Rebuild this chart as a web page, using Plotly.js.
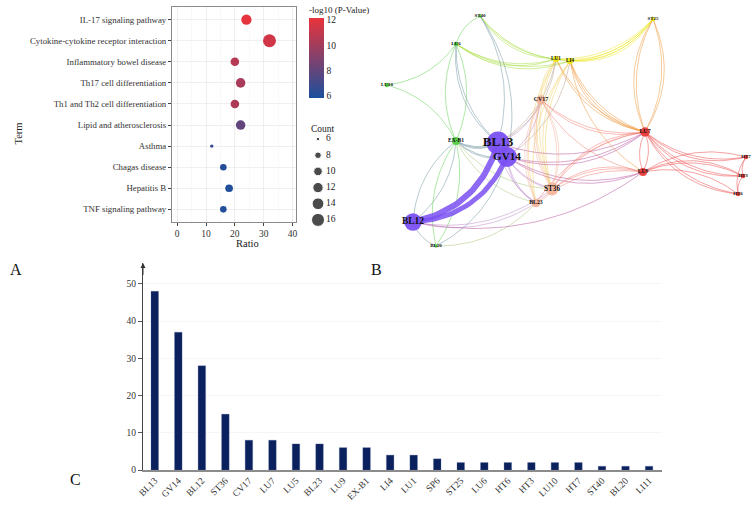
<!DOCTYPE html>
<html><head><meta charset="utf-8">
<script src="https://cdn.plot.ly/plotly-3.0.1.min.js"></script>
<style>html,body{margin:0;padding:0;background:#fff}#chart{width:753px;height:505px}</style>
</head><body><div id="chart"></div>
<script>
// ---------- Panel A data (KEGG bubble chart) ----------
const terms = ["IL-17 signaling pathway","Cytokine-cytokine receptor interaction","Inflammatory bowel disease","Th17 cell differentiation","Th1 and Th2 cell differentiation","Lipid and atherosclerosis","Asthma","Chagas disease","Hepatitis B","TNF signaling pathway"];
const ratio = [24,32,20,22,20,22,12,16,18,16];
const counts = [12,16,10,11,10,11,6,8,9,8];
const logP = [12.0,11.4,10.6,10.2,10.3,8.0,6.7,6.2,6.0,6.1];
const countLegend = [6,8,10,12,14,16];
const colorTicks = [6,8,10,12];
const ratioTicks = [0,10,20,30,40];

// ---------- Panel B data (network) ----------
const nodeNames = ["BL13","GV14","BL12","ST36","CV17","BL23","LU7","LU9","EX-B1","LI4","LU1","ST25","LU6","HT6","HT3","LU10","HT7","ST40","BL20"];
const nodeX = [498,507,413,552,541,536,645,643,456,570,556,653,456,738,743,387,746,480,436];
const nodeY = [143,157,222,189,100,203,132,172,141,61,59,19,44,194,176,85,157,16,246];
const nodeGroup = ["purple","purple","purple","peach","peach","peach","red","red","green","yellow","yellow","yellow","green","red","red","green","red","green","green"];
// [source, target, number of arcs]
const edges = [
 ["LU10","LU6",1],["EX-B1","LU10",1],["LU6","EX-B1",1],["EX-B1","LU6",1],["LU6","BL13",2],["LU6","LU1",2],["LU6","LI4",2],
 ["ST40","LU6",1],["ST40","LU1",2],["ST40","LI4",1],["BL13","ST40",1],["GV14","ST40",1],["EX-B1","BL13",3],["EX-B1","GV14",2],
 ["BL12","EX-B1",1],["EX-B1","BL12",1],["EX-B1","BL20",1],["BL20","EX-B1",1],["BL12","BL20",1],["EX-B1","ST36",1],["EX-B1","BL23",1],
 ["BL20","BL23",1],["BL20","GV14",1],
 ["LU1","ST25",3],["LI4","ST25",3],["LI4","LU7",3],["LU1","LU7",2],["ST25","LU7",2],["LU7","ST25",2],["LU1","CV17",1],["BL13","LU1",2],
 ["LU1","ST36",2],["LU1","BL23",1],["LI4","ST36",2],["GV14","LI4",1],["LI4","LU9",1],["LI4","BL23",1],
 ["LU7","HT7",2],["LU7","HT3",2],["LU7","HT6",2],["HT7","LU9",1],["HT3","LU9",2],["HT6","LU9",1],["HT7","HT3",1],["HT3","HT6",1],["HT7","HT6",1],
 ["LU7","LU9",1],["LU9","LU7",1],["GV14","LU7",2],["BL13","LU7",1],["GV14","LU9",2],["LU9","ST36",2],["LU7","ST36",2],["LU7","BL23",1],
 ["CV17","LU7",2],["CV17","LU9",1],["LU9","BL23",1],
 ["BL13","CV17",1],["GV14","CV17",1],["BL13","ST36",1],["GV14","ST36",1],["GV14","BL23",2],["BL13","BL23",1],["BL12","BL23",1],["BL12","ST36",1],
 ["BL13","GV14",1],["CV17","ST36",2],["ST36","CV17",2],["CV17","BL23",2],["BL23","ST36",1],["BL12","LU9",1]
];
// [source, target, strength]
const strongEdges = [["BL12","BL13",6],["BL12","GV14",5]];

// ---------- Panel C data (bar chart) ----------
const points = ["BL13","GV14","BL12","ST36","CV17","LU7","LU5","BL23","LU9","EX-B1","LI4","LU1","SP6","ST25","LU6","HT6","HT3","LU10","HT7","ST40","BL20","LI11"];
const freq = [48,37,28,15,8,8,7,7,6,6,4,4,3,2,2,2,2,2,2,1,1,1];
const freqTicks = [0,10,20,30,40,50];

// ---------- helpers ----------
const W=753,H=505;
const px = v => v/W, py = v => 1 - v/H;
const SERIF = "Liberation Serif, Times New Roman, serif";
const groupColor = {purple:"#7a50f2", peach:"#f3b49b", red:"#ea3a3a", yellow:"#ece61e", green:"#55cf45"};
function hex2rgb(h){return [parseInt(h.slice(1,3),16),parseInt(h.slice(3,5),16),parseInt(h.slice(5,7),16)];}
function mix(a,b,al){const A=hex2rgb(a),B=hex2rgb(b);return `rgba(${Math.round((A[0]+B[0])/2)},${Math.round((A[1]+B[1])/2)},${Math.round((A[2]+B[2])/2)},${al})`;}
const idx = n => nodeNames.indexOf(n);
const degree = n => freq[points.indexOf(n)];
function arc(s,t,k){
  const ax=nodeX[idx(s)], ay=nodeY[idx(s)], bx=nodeX[idx(t)], by=nodeY[idx(t)];
  const mx=(ax+bx)/2, my=(ay+by)/2;
  const cx=mx-(by-ay)*k, cy=my+(bx-ax)*k;
  const xs=[],ys=[];
  for(let i=0;i<=30;i++){const u=i/30;xs.push((1-u)*(1-u)*ax+2*(1-u)*u*cx+u*u*bx);ys.push((1-u)*(1-u)*ay+2*(1-u)*u*cy+u*u*by);}
  return [xs,ys];
}

const traces = [];
// Panel A bubbles
const sizeOf = c => Math.sqrt(12 + 15.7*(c-6));
traces.push({type:"scatter",mode:"markers",x:ratio,y:terms,xaxis:"x",yaxis:"y",
  marker:{size:counts.map(sizeOf),color:logP,coloraxis:"coloraxis",line:{width:0},opacity:1},
  hoverinfo:"x+y",showlegend:false,cliponaxis:false});
// Size legend
traces.push({type:"scatter",mode:"markers",x:countLegend.map(()=>13),y:countLegend,xaxis:"x3",yaxis:"y3",
  marker:{size:countLegend.map(sizeOf),color:"#000"},showlegend:false,hoverinfo:"skip",cliponaxis:false});
traces.push({type:"scatter",mode:"text",x:countLegend.map(()=>21),y:countLegend,text:countLegend.map(String),xaxis:"x3",yaxis:"y3",
  textposition:"middle right",textfont:{family:SERIF,size:9.5,color:"#222"},showlegend:false,hoverinfo:"skip",cliponaxis:false});

// Panel B edges
edges.forEach(([s,t,n])=>{
  const col = mix(groupColor[nodeGroup[idx(s)]],groupColor[nodeGroup[idx(t)]],0.6);
  for(let i=0;i<n;i++){
    const [xs,ys]=arc(s,t,0.22+0.045*i);
    traces.push({type:"scatter",mode:"lines",x:xs,y:ys,xaxis:"x4",yaxis:"y4",line:{color:col,width:0.8},hoverinfo:"skip",showlegend:false});
  }
});
strongEdges.forEach(([s,t,w])=>{
  const [xs,ys]=arc(s,t,0.3);
  traces.push({type:"scatter",mode:"lines",x:xs,y:ys,xaxis:"x4",yaxis:"y4",line:{color:"rgba(122,80,242,0.85)",width:w},hoverinfo:"skip",showlegend:false});
});
// Panel B nodes
traces.push({type:"scatter",mode:"markers+text",x:nodeX,y:nodeY,text:nodeNames,xaxis:"x4",yaxis:"y4",
  marker:{size:nodeNames.map(n=>3.3*Math.sqrt(degree(n))),color:nodeGroup.map(g=>groupColor[g]),opacity:0.95,line:{width:0}},
  textposition:"middle center",
  textfont:{family:SERIF,size:nodeNames.map(n=>Math.max(5,4.5+0.18*degree(n))),color:"#111",weight:"bold"},
  hoverinfo:"text",showlegend:false,cliponaxis:false});

// Panel C bars
traces.push({type:"bar",x:points,y:freq,xaxis:"x5",yaxis:"y5",width:0.32,
  marker:{color:"#0b215e",line:{color:"#5a6a9a",width:0.3}},showlegend:false,hoverinfo:"x+y"});

const layout = {
  width:W,height:H,margin:{l:0,r:0,t:0,b:0},paper_bgcolor:"#fff",plot_bgcolor:"rgba(0,0,0,0)",
  font:{family:SERIF,color:"#222"},showlegend:false,
  coloraxis:{colorscale:[[0,"#1b4f9d"],[1,"#e9333b"]],cmin:5.85,cmax:12.15,
    colorbar:{x:px(309),xanchor:"left",y:py(3),yanchor:"top",len:95,lenmode:"pixels",thickness:15,thicknessmode:"pixels",
      outlinewidth:0,xpad:0,ypad:0,tickvals:colorTicks,ticks:"",tickfont:{family:SERIF,size:9.5,color:"#222"},
      title:{text:"-log10 (P-Value)",side:"top",font:{family:SERIF,size:9,color:"#222"}}}},
  xaxis:{domain:[px(172),px(296)],anchor:"y",range:[-1.8,41.2],tickvals:ratioTicks,ticks:"outside",ticklen:3,tickcolor:"#444",
    tickfont:{family:SERIF,size:9.5,color:"#333"},showgrid:true,gridcolor:"#e6e6e6",gridwidth:0.6,
    minor:{dtick:5,tick0:0,showgrid:true,gridcolor:"#f3f3f3",gridwidth:0.5},
    showline:true,linecolor:"#8a8a8a",linewidth:1,mirror:true,zeroline:false,fixedrange:true},
  yaxis:{domain:[py(222),py(7)],anchor:"x",type:"category",categoryorder:"array",categoryarray:terms,range:[9.6,-0.6],
    ticks:"outside",ticklen:3,tickcolor:"#444",tickfont:{family:SERIF,size:8.8,color:"#333"},
    showgrid:true,gridcolor:"#e6e6e6",gridwidth:0.6,showline:true,linecolor:"#8a8a8a",linewidth:1,mirror:true,zeroline:false,fixedrange:true},
  xaxis3:{domain:[px(305),px(365)],anchor:"y3",range:[0,60],visible:false,fixedrange:true},
  yaxis3:{domain:[py(228),py(131)],anchor:"x3",range:[17,5],visible:false,fixedrange:true},
  xaxis4:{domain:[px(370),1],anchor:"y4",range:[370,753],visible:false,fixedrange:true},
  yaxis4:{domain:[py(255),1],anchor:"x4",range:[255,0],visible:false,fixedrange:true},
  xaxis5:{domain:[px(143),px(662)],anchor:"y5",type:"category",range:[-0.5,21.55],tickangle:-45,ticks:"",
    tickfont:{family:SERIF,size:9.5,color:"#333"},showline:true,linecolor:"#8c8c8c",linewidth:1.5,showgrid:false,fixedrange:true},
  yaxis5:{domain:[py(470),py(263)],anchor:"x5",range:[0,55.6],tickvals:freqTicks,ticks:"outside",ticklen:4,tickcolor:"#555",
    tickfont:{family:SERIF,size:9.5,color:"#333"},showline:true,linecolor:"#444",linewidth:1,showgrid:true,gridcolor:"#f6f6f6",zeroline:false,fixedrange:true},
  annotations:[
    {text:"Term",xref:"paper",yref:"paper",x:px(10),y:py(121),textangle:-90,showarrow:false,font:{family:SERIF,size:10.5,color:"#222"}},
    {text:"Ratio",xref:"paper",yref:"paper",x:px(234),y:py(243),showarrow:false,font:{family:SERIF,size:10.5,color:"#222"}},
    {text:"Count",xref:"paper",yref:"paper",x:px(309),y:py(122),xanchor:"left",showarrow:false,font:{family:SERIF,size:9.5,color:"#222"}},
    {text:"A",xref:"paper",yref:"paper",x:px(8),y:py(269),showarrow:false,font:{family:SERIF,size:16,color:"#111"}},
    {text:"B",xref:"paper",yref:"paper",x:px(376),y:py(269),showarrow:false,font:{family:SERIF,size:16,color:"#111"}},
    {text:"C",xref:"paper",yref:"paper",x:px(68),y:py(490),showarrow:false,font:{family:SERIF,size:16,color:"#111"}},
    {text:"",xref:"x5",yref:"y5",x:-0.5,y:55.6,axref:"x5",ayref:"y5",ax:-0.5,ay:52,showarrow:true,arrowhead:2,arrowsize:1,arrowwidth:1,arrowcolor:"#333"}
  ]
};
Plotly.newPlot("chart",traces,layout,{staticPlot:true,displayModeBar:false});
</script></body></html>
